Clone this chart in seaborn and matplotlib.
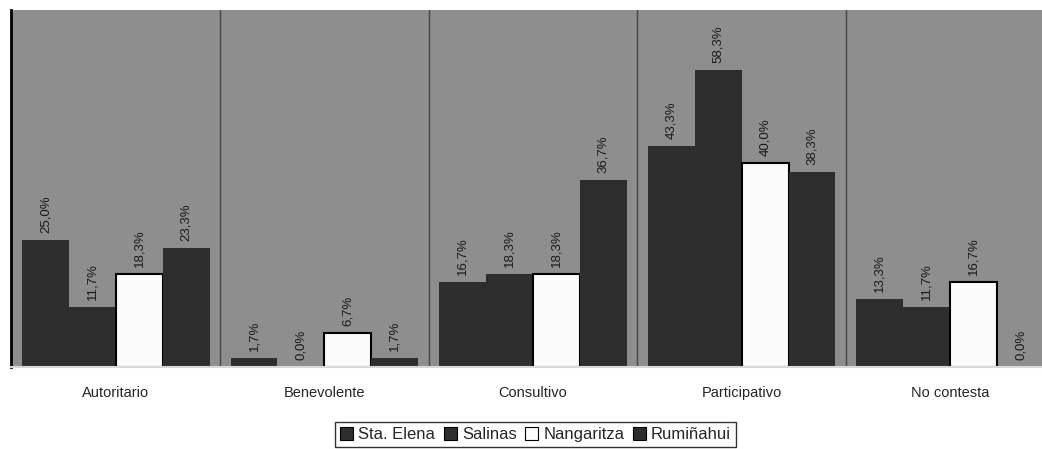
import matplotlib
matplotlib.use("Agg")
import matplotlib.pyplot as plt
import pandas as pd
import seaborn as sns
from matplotlib.patches import Patch

categories = ["Autoritario", "Benevolente", "Consultivo", "Participativo", "No contesta"]
series = ["Sta. Elena", "Salinas", "Nangaritza", "Rumiñahui"]
sta_elena = [25.0, 1.7, 16.7, 43.3, 13.3]
salinas = [11.7, 0.0, 18.3, 58.3, 11.7]
nangaritza = [18.3, 6.7, 18.3, 40.0, 16.7]
ruminahui = [23.3, 1.7, 36.7, 38.3, 0.0]

DARK = "#2e2e2e"
BG = "#8e8e8e"
PALETTE = {"Sta. Elena": DARK, "Salinas": DARK, "Nangaritza": "#fbfbfb", "Rumiñahui": DARK}

rows = []
for name, vals in zip(series, [sta_elena, salinas, nangaritza, ruminahui]):
    for cat, v in zip(categories, vals):
        rows.append({"categoria": cat, "serie": name, "valor": v})
df = pd.DataFrame(rows)

sns.set_style("white")
plt.rcParams["font.family"] = ["Liberation Sans", "DejaVu Sans"]

fig = plt.figure(figsize=(10.42, 4.49), dpi=100)
# plot area runs past the right edge of the picture, as in the cropped original
ax = fig.add_axes([0.011, 0.1826, 1.001, 0.795])
ax.set_facecolor(BG)

sns.barplot(data=df, x="categoria", y="valor", hue="serie", order=categories,
            hue_order=series, palette=PALETTE, width=0.9, saturation=1,
            ax=ax, legend=False, linewidth=0)

# black edge only on the white series
for cont, name in zip(ax.containers, series):
    for bar in cont:
        if name == "Nangaritza":
            bar.set_edgecolor("black")
            bar.set_linewidth(1.5)
    labels = [f"{v:.1f}%".replace(".", ",") for v in cont.datavalues]
    ax.bar_label(cont, labels=labels, rotation=90, padding=5, fontsize=9.5, color="#1a1a1a")

for b in [0.5, 1.5, 2.5, 3.5]:
    ax.axvline(b, color="#444444", linewidth=1, zorder=0.5)

ax.set_xlim(-0.5, 4.5)
ax.set_ylim(0, 70)
ax.set_xlabel("")
ax.set_ylabel("")
ax.set_yticks([])
ax.set_xticks(range(len(categories)))
ax.set_xticklabels(categories, fontsize=10.5)
ax.tick_params(axis="x", length=0, pad=14)
ax.set_xticks([-0.5, 0.5, 1.5, 2.5, 3.5, 4.5], minor=True)
ax.tick_params(axis="x", which="minor", length=5, color="#333333", width=1)

for side in ["top", "right"]:
    ax.spines[side].set_visible(False)
ax.spines["left"].set_color("black")
ax.spines["left"].set_linewidth(2)
ax.spines["bottom"].set_color("#d8d8d8")
ax.spines["bottom"].set_linewidth(1.5)

handles = [Patch(facecolor=PALETTE[s], edgecolor="black", linewidth=0.8, label=s) for s in series]
leg = fig.legend(handles=handles, loc="lower center", bbox_to_anchor=(0.514, 0.0), ncol=4,
                 frameon=True, fancybox=False, fontsize=12, handlelength=0.8,
                 handleheight=0.8, handletextpad=0.3, columnspacing=0.5,
                 borderpad=0.3, borderaxespad=0.1)
leg.get_frame().set_edgecolor("black")
leg.get_frame().set_linewidth(1)

fig.savefig("out.png", dpi=100, facecolor="white")
